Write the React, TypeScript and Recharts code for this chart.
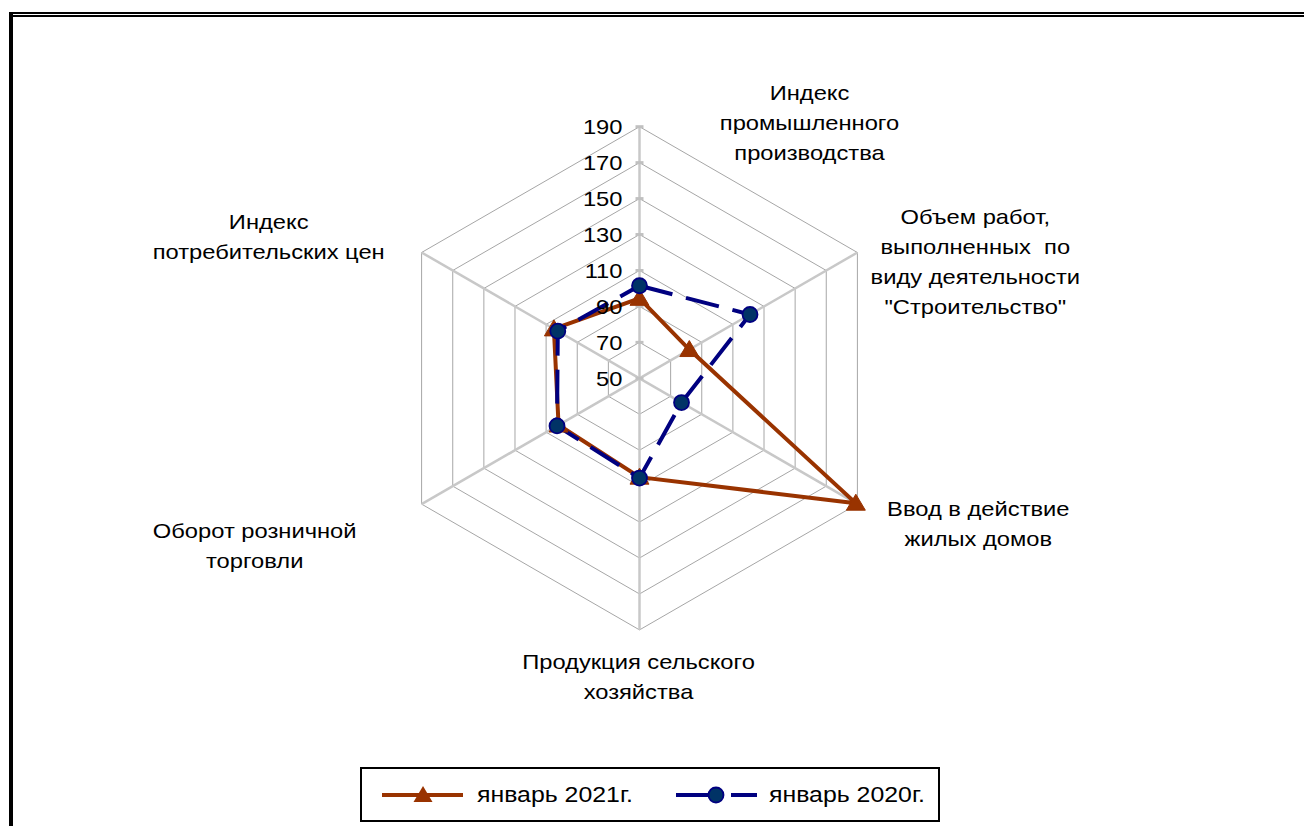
import React from 'react';
import { RadarChart, Radar, PolarGrid, PolarAngleAxis, PolarRadiusAxis } from 'recharts';

const categories = [
  'Индекс промышленного производства',
  'Объем работ, выполненных  по виду деятельности "Строительство"',
  'Ввод в действие жилых домов',
  'Продукция сельского хозяйства',
  'Оборот розничной торговли',
  'Индекс потребительских цен',
];
const categoryLines = [
  ['Индекс', 'промышленного', 'производства'],
  ['Объем работ,', 'выполненных  по', 'виду деятельности', '"Строительство"'],
  ['Ввод в действие', 'жилых домов'],
  ['Продукция сельского', 'хозяйства'],
  ['Оборот розничной', 'торговли'],
  ['Индекс', 'потребительских цен'],
];
const jan2021 = [94.5, 82, 189, 105, 102, 105];
const jan2020 = [101.5, 121, 77, 105.5, 103, 102.5];
const radiusTicks = [50, 70, 90, 110, 130, 150, 170, 190];
const seriesNames = ['январь 2021г.', 'январь 2020г.'];

const data = categories.map((name, i) => ({ name, y2021: jan2021[i], y2020: jan2020[i] }));

const FONT = 'Arial, "Liberation Sans", sans-serif';
const BROWN = '#993300';
const NAVY = '#000080';
const DOT_FILL = '#003366';
const STRETCH = 1.13;

const stretchAt = (x: number) => `translate(${x},0) scale(${STRETCH},1) translate(${-x},0)`;

// label offsets (center x, first-line center y) relative to the angle-axis tick point
const labelOffsets = [
  [170, -26],
  [111, -32],
  [114, 0],
  [-1, 24],
  [-160, 22],
  [-146, -27],
];
const LINE_H = 30;

const AngleTick = (props: any) => {
  const { x, y, payload } = props;
  let i = categories.indexOf(payload.value);
  if (i < 0) i = props.index ?? 0;
  const [dx, dy] = labelOffsets[i];
  const lines = categoryLines[i];
  const tx = x + dx;
  const ty = y + dy + 7.5;
  return (
    <text
      x={tx}
      y={ty}
      textAnchor="middle"
      fontSize={21}
      fontFamily={FONT}
      fill="#000"
      style={{ whiteSpace: 'pre' }}
      transform={stretchAt(tx)}
    >
      {lines.map((l, k) => (
        <tspan key={k} x={tx} y={ty + k * LINE_H}>
          {l}
        </tspan>
      ))}
    </text>
  );
};

const RadiusTick = (props: any) => {
  const { x, y, payload } = props;
  const tx = x - 17;
  return (
    <g>
      <line x1={x - 4} y1={y} x2={x + 4} y2={y} stroke="#c0c0c0" strokeWidth={3} />
      <text x={tx} y={y + 7.5} textAnchor="end" fontSize={21} fontFamily={FONT} fill="#000" transform={stretchAt(tx)}>
        {payload.value}
      </text>
    </g>
  );
};

const TriangleDot = (props: any) => {
  const { cx, cy, index } = props;
  if (cx == null || cy == null) return <g key={`t${index}`} />;
  return (
    <path
      key={`t${index}`}
      d={`M${cx},${cy - 9} L${cx + 9.5},${cy + 7} L${cx - 9.5},${cy + 7} Z`}
      fill={BROWN}
      stroke={BROWN}
      strokeWidth={1}
    />
  );
};

const CircleDot = (props: any) => {
  const { cx, cy, index } = props;
  if (cx == null || cy == null) return <g key={`c${index}`} />;
  return <circle key={`c${index}`} cx={cx} cy={cy} r={7.5} fill={DOT_FILL} stroke={NAVY} strokeWidth={1.8} />;
};

const LegendBox = () => (
  <div
    style={{
      position: 'absolute',
      left: 360,
      top: 767,
      width: 580,
      height: 55,
      border: '2px solid #000',
      boxSizing: 'border-box',
      background: '#fff',
    }}
  >
    <svg width={580} height={55} style={{ position: 'absolute', left: -2, top: -2 }}>
      <line x1={22} y1={28} x2={103} y2={28} stroke={BROWN} strokeWidth={4} />
      <path d={`M63,19 L72.5,35 L53.5,35 Z`} fill={BROWN} />
      <line x1={316} y1={28} x2={352} y2={28} stroke={NAVY} strokeWidth={4} />
      <line x1={371} y1={28} x2={397} y2={28} stroke={NAVY} strokeWidth={4} />
      <circle cx={356} cy={28} r={7.5} fill={DOT_FILL} stroke={NAVY} strokeWidth={1.8} />
      <text x={117} y={35.5} fontSize={22} fontFamily={FONT} fill="#000" transform={stretchAt(117)}>
        {seriesNames[0]}
      </text>
      <text x={409} y={35.5} fontSize={22} fontFamily={FONT} fill="#000" transform={stretchAt(409)}>
        {seriesNames[1]}
      </text>
    </svg>
  </div>
);

export default function App() {
  return (
    <div style={{ position: 'fixed', left: 0, top: 0, width: 1304, height: 826, background: '#fff', overflow: 'hidden' }}>
      {/* frame */}
      <div style={{ position: 'absolute', left: 10, top: 12, width: 1294, height: 2, background: '#000' }} />
      <div style={{ position: 'absolute', left: 13, top: 15, width: 1291, height: 2, background: '#000' }} />
      <div style={{ position: 'absolute', left: 9, top: 12, width: 4, height: 814, background: '#000' }} />

      <div style={{ position: 'absolute', left: 0, top: 0 }}>
        <RadarChart
          width={1304}
          height={826}
          data={data}
          cx={639.5}
          cy={378.3}
          outerRadius={251.6}
          margin={{ top: 0, right: 0, bottom: 0, left: 0 }}
        >
          <PolarGrid gridType="polygon" radialLines={false} stroke="#a6a6a6" strokeWidth={1} />
          <PolarGrid gridType="polygon" radialLines={true} polarRadius={[0]} stroke="#c8c8c8" strokeWidth={2.5} />
          <PolarAngleAxis dataKey="name" tick={AngleTick} tickLine={false} axisLine={false} />
          <PolarRadiusAxis
            angle={90}
            type="number"
            domain={[50, 190]}
            ticks={radiusTicks as any}
            axisLine={false}
            tickLine={false}
            tick={RadiusTick}
          />
          <Radar
            name={seriesNames[0]}
            dataKey="y2021"
            stroke={BROWN}
            strokeWidth={4}
            fill="none"
            fillOpacity={0}
            dot={TriangleDot}
            isAnimationActive={false}
          />
          <Radar
            name={seriesNames[1]}
            dataKey="y2020"
            stroke={NAVY}
            strokeWidth={4}
            strokeDasharray="34 14"
            fill="none"
            fillOpacity={0}
            dot={CircleDot}
            isAnimationActive={false}
          />
        </RadarChart>
      </div>
      <LegendBox />
    </div>
  );
}
